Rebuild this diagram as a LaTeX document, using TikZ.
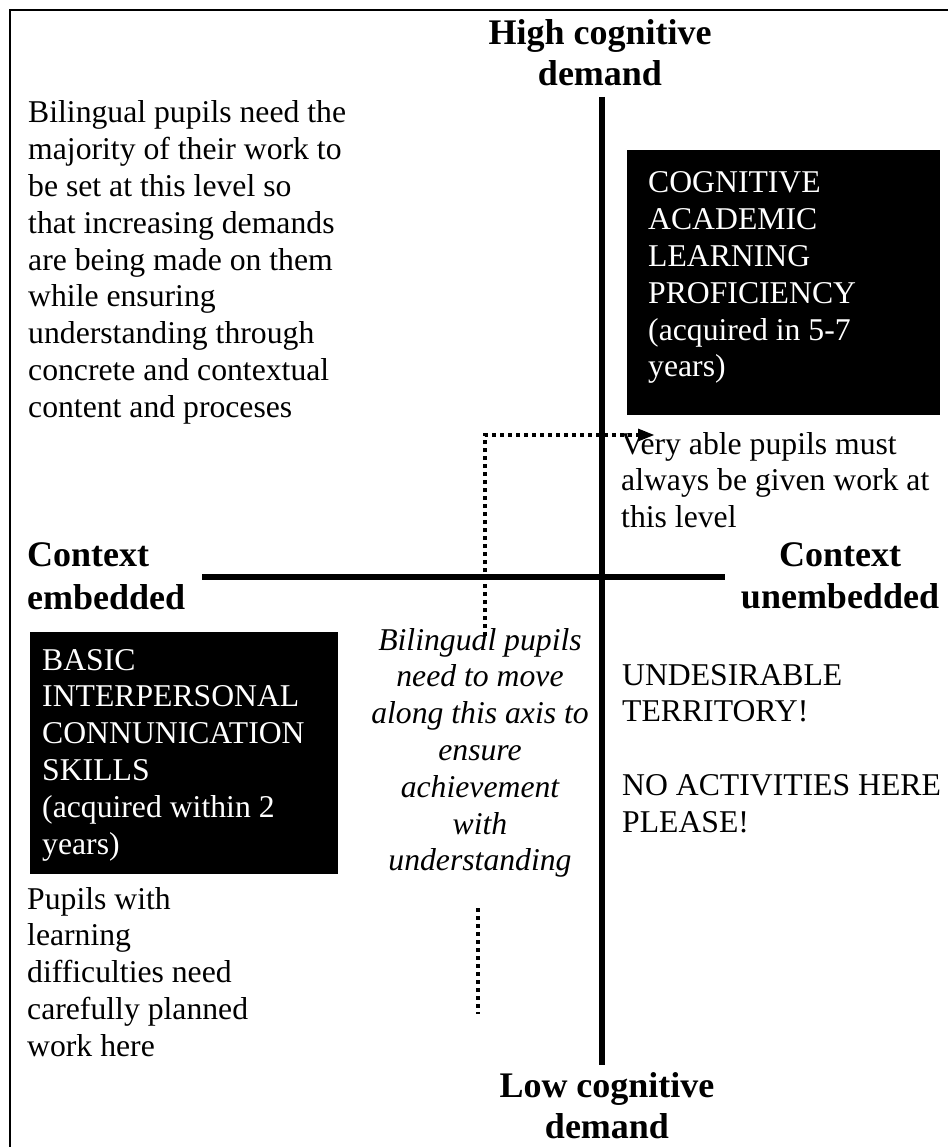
\documentclass[tikz,border=0pt]{standalone}
\usepackage{fontspec}
\setmainfont{Liberation Serif}
\usetikzlibrary{arrows.meta}
\begin{document}
\begin{tikzpicture}[x=1pt,y=-1pt,
  bodytext/.style={font=\fontsize{31.7}{36.8}\selectfont, inner sep=0pt, align=flush left, text width=#1, anchor=base west},
  bodytext/.default=330pt,
  whitetext/.style={bodytext=#1, text=white},
  whitetext/.default=300pt,
  centertext/.style={font=\fontsize{31.7}{36.8}\selectfont\itshape, inner sep=0pt, align=flush center, text width=#1, anchor=base},
  centertext/.default=290pt,
  header/.style={font=\fontsize{36}{41}\selectfont\bfseries, inner sep=0pt, text width=300pt, anchor=base, align=flush center},
  headerleft/.style={font=\fontsize{36}{43}\selectfont\bfseries, inner sep=0pt, text width=300pt, anchor=base west, align=flush left},
  headerside/.style={font=\fontsize{36}{42}\selectfont\bfseries, inner sep=0pt, text width=300pt, anchor=base, align=flush center},
  blackbox/.style={fill=black, draw=none, inner sep=0pt, anchor=north west},
  axis/.style={line width=6pt},
  frame/.style={line width=2pt},
  dottedpath/.style={line width=4pt, dash pattern=on 4pt off 4pt},
]
\useasboundingbox (0,0) rectangle (948,1147);
\fill[white] (0,0) rectangle (948,1147);

% frame
\coordinate (fbl) at (10,1147);
\coordinate (ftl) at (10,10);
\coordinate (ftr) at (948,10);
\draw[frame] (fbl) -- (ftl) -- (ftr);

% black boxes
\node[blackbox, minimum width=313pt, minimum height=265pt] (calpbox) at (627,150) {};
\node[blackbox, minimum width=308pt, minimum height=242pt] (bicsbox) at (30,632) {};

% axes
\coordinate (vtop) at (602,97);
\coordinate (vbot) at (602,1065);
\coordinate (hleft) at (202,577);
\coordinate (hright) at (725,577);
\draw[axis] (vtop) -- (vbot);
\draw[axis] (hleft) -- (hright);

% dotted arrow
\coordinate (dstart) at (485,636);
\coordinate (dcorner) at (485,435);
\coordinate (dend) at (654,435);
\draw[dottedpath, -{Triangle[length=16pt,width=13pt,line width=0pt]}] (dstart) -- (dcorner) -- (dend);
\coordinate (d2top) at (478,908);
\coordinate (d2bot) at (478,1014);
\draw[dottedpath] (d2top) -- (d2bot);

% headers
\node[header] (high) at (600,45) {High cognitive\\demand};
\node[header] (low) at (607,1097) {Low cognitive\\demand};
\node[headerleft] (ctxemb) at (27,566) {Context\\embedded};
\node[headerside] (ctxunemb) at (840,566) {Context\\unembedded};

% texts
\node[bodytext] (topleft) at (28,123) {Bilingual pupils need the\\majority of their work to\\be set at this level so\\that increasing demands\\are being made on them\\while ensuring\\understanding through\\concrete and contextual\\content and proceses};
\node[whitetext] (calp) at (648,193) {COGNITIVE\\ACADEMIC\\LEARNING\\PROFICIENCY\\(acquired in 5-7\\years)};
\node[bodytext] (veryable) at (621,454) {Very able pupils must\\always be given work at\\this level};
\node[whitetext] (bics) at (42,670) {BASIC\\INTERPERSONAL\\CONNUNICATION\\SKILLS\\(acquired within 2\\years)};
\node[centertext] (move) at (480,650) {Bilingual pupils\\need to move\\along this axis to\\ensure\\achievement\\with\\understanding};
\node[bodytext] (undesirable) at (622,685) {UNDESIRABLE\\TERRITORY!\\[36.8pt]NO ACTIVITIES HERE\\PLEASE!};
\node[bodytext] (pupils) at (27,909) {Pupils with\\learning\\difficulties need\\carefully planned\\work here};
\end{tikzpicture}
\end{document}
